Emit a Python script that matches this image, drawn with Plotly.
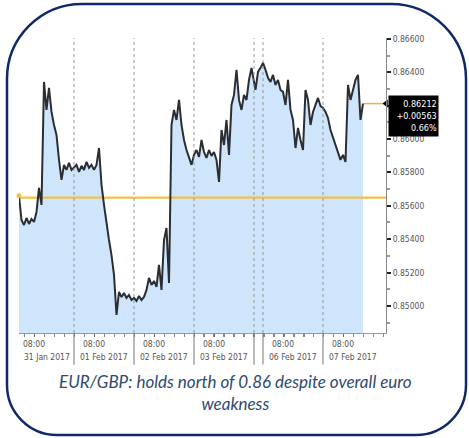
import plotly.graph_objects as go
import pandas as pd

# ---------------- data (hourly EUR/GBP closes) ----------------
jan31_start = "2017-01-31 02:00"
jan31 = [0.85660, 0.85515, 0.85485, 0.85527, 0.85491, 0.85521, 0.85503, 0.85563,
         0.85707, 0.85605, 0.86342, 0.86174, 0.86306, 0.86162, 0.86084, 0.86024,
         0.85875, 0.85755, 0.85845, 0.85815, 0.85857, 0.85815]
feb01_start = "2017-02-01 00:00"
feb01 = [0.85830, 0.85845, 0.85803, 0.85839, 0.85815, 0.85863, 0.85827, 0.85845,
         0.85815, 0.85845, 0.85946, 0.85725, 0.85605, 0.85485, 0.85395, 0.85305,
         0.85186, 0.84946, 0.85084, 0.85054, 0.85078, 0.85048, 0.85066, 0.85036]
feb02_start = "2017-02-02 00:00"
feb02 = [0.85048, 0.85030, 0.85060, 0.85036, 0.85054, 0.85096, 0.85168, 0.85126,
         0.85150, 0.85114, 0.85246, 0.85096, 0.85395, 0.85467, 0.85138, 0.86084,
         0.86174, 0.86114, 0.86234, 0.86084, 0.85994, 0.85934, 0.85887, 0.85845]
feb03_start = "2017-02-03 00:00"
feb03 = [0.85905, 0.85934, 0.85893, 0.85994, 0.85922, 0.85887, 0.85934, 0.85899,
         0.85922, 0.85875, 0.85743, 0.86054, 0.85964, 0.86114, 0.85905, 0.86204,
         0.86264, 0.86414, 0.86234, 0.86174, 0.86264, 0.86234, 0.86354, 0.86426]
feb05_start = "2017-02-05 21:00"
feb05 = [0.86294, 0.86402, 0.86426]
feb06_start = "2017-02-06 00:00"
feb06 = [0.86456, 0.86414, 0.86366, 0.86342, 0.86384, 0.86324, 0.86354, 0.86294,
         0.86282, 0.86204, 0.86354, 0.86174, 0.86114, 0.85946, 0.86066, 0.85994,
         0.85934, 0.86294, 0.86234, 0.86084, 0.86162, 0.86204, 0.86246, 0.86198]
feb07_start = "2017-02-07 00:00"
feb07 = [0.86186, 0.86162, 0.86126, 0.86054, 0.86006, 0.85964, 0.85922, 0.85875,
         0.85905, 0.85863, 0.86324, 0.86234, 0.86294, 0.86354, 0.86384, 0.86114,
         0.86212]

prev_close = 0.85649

tick_dates = ["2017-01-31 08:00", "2017-02-01 08:00", "2017-02-02 08:00",
              "2017-02-03 08:00", "2017-02-06 08:00", "2017-02-07 08:00"]
tick_time = "08:00"
day_label_pos = ["2017-01-31 13:00", "2017-02-01 12:00", "2017-02-02 12:00",
                 "2017-02-03 12:00", "2017-02-06 12:00", "2017-02-07 12:00"]
day_labels = ["31 Jan 2017", "01 Feb 2017", "02 Feb 2017",
              "03 Feb 2017", "06 Feb 2017", "07 Feb 2017"]
day_bounds = ["2017-02-01", "2017-02-02", "2017-02-03", "2017-02-04",
              "2017-02-06", "2017-02-07"]
weekend_break = ["2017-02-04 00:01", "2017-02-05 20:25"]
x_range = ["2017-01-31 02:00", "2017-02-08 01:12"]
y_ticks = [0.850, 0.852, 0.854, 0.856, 0.858, 0.860, 0.862, 0.864, 0.866]
y_hidden = [0.862]          # label covered by the last-price box
y_range = [0.84838, 0.86605]
caption = "EUR/GBP: holds north of 0.86 despite overall euro<br>weakness"

# ---------------- build series ----------------
segments = [(jan31_start, jan31), (feb01_start, feb01), (feb02_start, feb02),
            (feb03_start, feb03), (feb05_start, feb05), (feb06_start, feb06),
            (feb07_start, feb07)]
xs, ys = [], []
for start, vals in segments:
    xs += list(pd.date_range(start, periods=len(vals), freq="h"))
    ys += vals

last = ys[-1]
chg = last - prev_close
pct = chg / prev_close * 100

NARROW = "Liberation Sans Narrow, DejaVu Sans Condensed, Arial Narrow, sans-serif"
ORANGE = "#f2c14a"

fig = go.Figure()
fig.add_trace(go.Scatter(x=xs, y=ys, mode="lines", line=dict(width=0),
                         fill="tozeroy", fillcolor="#cfe5fb", hoverinfo="skip",
                         showlegend=False))
fig.add_trace(go.Scatter(x=x_range, y=[prev_close, prev_close], mode="lines",
                         line=dict(color=ORANGE, width=2.2), showlegend=False))
fig.add_trace(go.Scatter(x=[xs[-1], x_range[1]], y=[last, last], mode="lines",
                         line=dict(color="#eab04a", width=1.5), showlegend=False))
fig.add_trace(go.Scatter(x=xs, y=ys, mode="lines",
                         line=dict(color="#2a2e32", width=2.0), showlegend=False))
fig.add_trace(go.Scatter(x=[xs[0]], y=[ys[0]], mode="markers",
                         marker=dict(color=ORANGE, size=5), cliponaxis=False,
                         showlegend=False))
fig.add_trace(go.Scatter(x=[x_range[1]], y=[last], mode="markers",
                         marker=dict(color="black", size=7, symbol="triangle-left"),
                         cliponaxis=False, showlegend=False))

shapes = []
for d in day_bounds:
    shapes.append(dict(type="line", xref="x", yref="paper", x0=d, x1=d, y0=0, y1=1,
                       line=dict(color="rgba(140,140,140,0.9)", width=1, dash="dot"),
                       layer="above"))
    shapes.append(dict(type="line", xref="x", yref="paper", x0=d, x1=d, y0=0, y1=-0.107,
                       line=dict(color="#777", width=1), layer="above"))

L, R, T, B = 19, 386, 38, 333
W, H = R - L, B - T


def P(px, py):
    return f"{(px - L) / W:.4f},{(B - py) / H:.4f}"


fl, fr, ft, fb = 7, 466, 4, 435
rt, rb, k = 75, 50, 0.5523
path = (f"M {P(fl + rt, ft)} L {P(fr - rt, ft)} "
        f"C {P(fr - rt + k * rt, ft)} {P(fr, ft + rt - k * rt)} {P(fr, ft + rt)} "
        f"L {P(fr, fb - rb)} "
        f"C {P(fr, fb - rb + k * rb)} {P(fr - rb + k * rb, fb)} {P(fr - rb, fb)} "
        f"L {P(fl + rb, fb)} "
        f"C {P(fl + rb - k * rb, fb)} {P(fl, fb - rb + k * rb)} {P(fl, fb - rb)} "
        f"L {P(fl, ft + rt)} "
        f"C {P(fl, ft + rt - k * rt)} {P(fl + rt - k * rt, ft)} {P(fl + rt, ft)} Z")
shapes.append(dict(type="path", xref="paper", yref="paper", path=path,
                   line=dict(color="#0f2a68", width=2.5), layer="above"))

annotations = [
    dict(xref="paper", yref="y", x=1, y=last, xanchor="left", yanchor="top",
         xshift=2, yshift=9, showarrow=False, bgcolor="black", align="right",
         width=47, height=38, borderpad=1,
         text=f"{last:.5f}<br>{chg:+.5f}<br>{pct:.2f}%",
         font=dict(family=NARROW, size=9, color="white")),
    dict(xref="paper", yref="paper", x=(235 - L) / W, y=(B - 392) / H,
         xanchor="center", yanchor="middle", showarrow=False,
         text=f"<i>{caption}</i>",
         font=dict(family="Lato, Open Sans, sans-serif", size=17, color="#2e4a70")),
]
for pos, lab in zip(day_label_pos, day_labels):
    annotations.append(dict(xref="x", yref="paper", x=pos, y=(B - 357) / H,
                            xanchor="center", yanchor="middle", showarrow=False,
                            text=lab, font=dict(family=NARROW, size=8.5, color="#555")))

fig.update_layout(
    width=469, height=438,
    margin=dict(l=L, r=469 - R, t=T, b=438 - B),
    paper_bgcolor="white", plot_bgcolor="white",
    shapes=shapes, annotations=annotations, showlegend=False,
    xaxis=dict(type="date", range=x_range,
               rangebreaks=[dict(bounds=weekend_break)],
               tickmode="array", tickvals=tick_dates,
               ticktext=[tick_time] * len(tick_dates),
               ticks="outside", ticklen=3, tickcolor="#666",
               minor=dict(ticks="outside", ticklen=3, tickcolor="#888",
                          dtick=4 * 3600 * 1000, tick0="2017-01-31 00:00"),
               showline=True, linecolor="#999", linewidth=1,
               showgrid=False, zeroline=False,
               tickfont=dict(family=NARROW, size=8.5, color="#555")),
    yaxis=dict(side="right", range=y_range, tickmode="array", tickvals=y_ticks,
               ticktext=["" if v in y_hidden else f"{v:.5f}" for v in y_ticks],
               ticks="outside", ticklen=4, tickwidth=2, tickcolor="#222",
               minor=dict(ticks="outside", ticklen=3, tickcolor="#999", dtick=0.001,
                          tick0=0.85),
               showline=True, linecolor="#888", linewidth=1,
               showgrid=False, zeroline=False,
               tickfont=dict(family=NARROW, size=8.5, color="#555")),
)

fig.write_html("out.html")
